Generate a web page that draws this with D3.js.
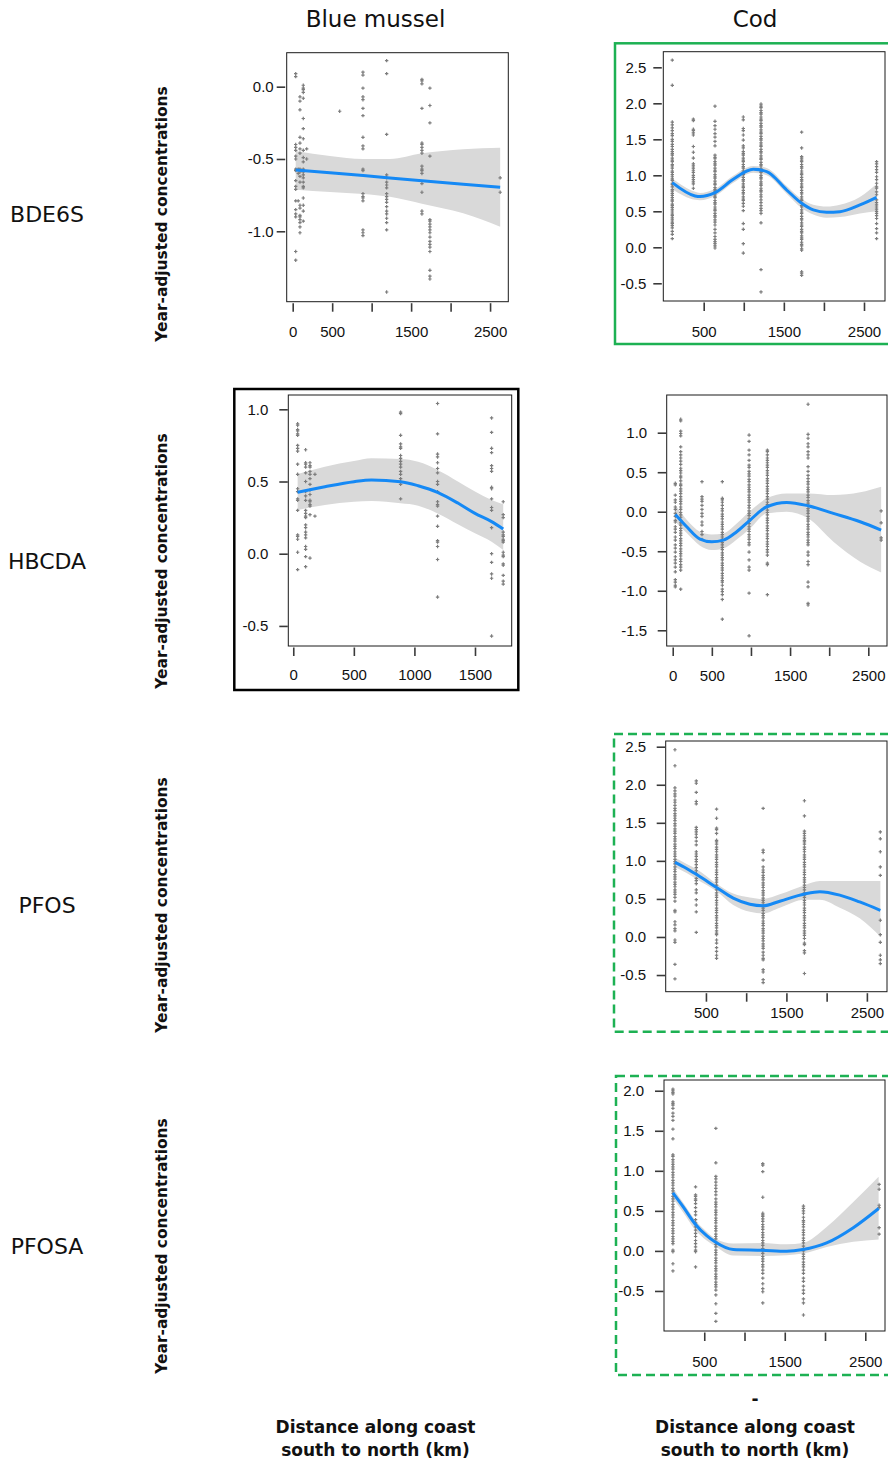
<!DOCTYPE html>
<html>
<head>
<meta charset="utf-8">
<script src="https://cdn.jsdelivr.net/npm/d3@7"></script>
<style>
body { margin: 0; background: #fff; }
svg { display: block; }
</style>
</head>
<body>
<div id="chart"></div>
<script>
// ---- data: each station is [distance km, [year-adjusted values]] ----
var musselBdePts = [
  [38, [0.09, 0.07, -0.40, -0.42, -0.44, -0.48, -0.50, -0.57, -0.58, -0.65, -0.69, -0.71, -0.79, -0.85, -0.88, -0.90, -1.14, -1.20]],
  [70, [-0.57, -0.60, -0.79]],
  [92, [-0.07, -0.10, -0.16, -0.35, -0.39, -0.43, -0.46, -0.57, -0.59, -0.62, -0.66, -0.82, -0.84, -0.89, -0.90, -0.92, -0.94, -0.97, -1.01]],
  [134, [0.01, -0.01, -0.02, -0.04, -0.08, -0.22, -0.29, -0.36, -0.44, -0.49, -0.52, -0.57, -0.59, -0.61, -0.63, -0.66, -0.69, -0.70, -0.77, -0.82, -0.86, -0.93]],
  [177, [-0.43, -0.50]],
  [595, [-0.17]],
  [890, [0.10, 0.08, -0.01, -0.07, -0.09, -0.15, -0.20, -0.35, -0.41, -0.43, -0.57, -0.58, -0.74, -0.76, -0.77, -0.79, -0.99, -1.01, -1.03]],
  [1190, [0.18, 0.09, -0.33, -0.61, -0.63, -0.66, -0.68, -0.70, -0.74, -0.76, -0.78, -0.80, -0.83, -0.86, -0.88, -0.91, -0.94, -0.99, -1.42]],
  [1637, [0.05, 0.04, 0.02, -0.15, -0.39, -0.40, -0.42, -0.44, -0.46, -0.55, -0.57, -0.58, -0.60, -0.67, -0.73, -0.86, -0.88]],
  [1738, [-0.01, -0.13, -0.25, -0.48, -0.92, -0.93, -0.95, -0.97, -0.99, -1.01, -1.04, -1.07, -1.09, -1.11, -1.14, -1.27, -1.31, -1.33]],
  [2628, [-0.63, -0.73]]
];
// fit rows: [distance, fit, lower, upper]
var musselBdeFit = [
  [38, -0.576, -0.712, -0.445], [472, -0.596, -0.728, -0.479], [894, -0.615, -0.742, -0.500],
  [1231, -0.631, -0.762, -0.500], [1637, -0.650, -0.810, -0.461], [2160, -0.674, -0.876, -0.433],
  [2628, -0.695, -0.968, -0.422]
];

var codBdePts = [
  [108, [2.60, 2.25, 1.74, 1.70, 1.66, 1.62, 1.58, 1.55, 1.50, 1.47, 1.43, 1.40, 1.36, 1.33, 1.30, 1.28, 1.24, 1.21, 1.19, 1.15, 1.13, 1.10, 1.06, 1.04, 1.01, 0.98, 0.95, 0.93, 0.89, 0.87, 0.84, 0.80, 0.78, 0.75, 0.72, 0.69, 0.66, 0.64, 0.60, 0.58, 0.55, 0.52, 0.49, 0.46, 0.44, 0.41, 0.38, 0.35, 0.33, 0.30, 0.27, 0.22, 0.18, 0.12]],
  [371, [1.78, 1.76, 1.64, 1.62, 1.59, 1.56, 1.40, 1.32, 1.24, 1.16, 1.13, 1.10, 1.07, 1.04, 1.00, 0.97, 0.94, 0.91, 0.88, 0.82]],
  [641, [1.96, 1.75, 1.69, 1.64, 1.58, 1.53, 1.47, 1.41, 1.28, 1.25, 1.23, 1.19, 1.16, 1.14, 1.10, 1.07, 1.05, 1.01, 0.98, 0.96, 0.92, 0.89, 0.87, 0.83, 0.80, 0.78, 0.74, 0.71, 0.69, 0.65, 0.62, 0.60, 0.56, 0.53, 0.51, 0.47, 0.44, 0.42, 0.38, 0.35, 0.31, 0.25, 0.20, 0.15, 0.11, 0.08, 0.05, 0.02, -0.01]],
  [994, [1.81, 1.77, 1.65, 1.62, 1.56, 1.49, 1.41, 1.38, 1.33, 1.30, 1.28, 1.24, 1.21, 1.19, 1.15, 1.12, 1.10, 1.06, 1.03, 1.01, 0.97, 0.94, 0.92, 0.88, 0.85, 0.83, 0.79, 0.76, 0.74, 0.70, 0.67, 0.65, 0.61, 0.57, 0.51, 0.33, 0.25, 0.05, -0.08]],
  [1215, [1.99, 1.96, 1.94, 1.90, 1.87, 1.85, 1.81, 1.78, 1.76, 1.72, 1.69, 1.67, 1.63, 1.60, 1.58, 1.54, 1.51, 1.49, 1.45, 1.42, 1.40, 1.36, 1.33, 1.31, 1.27, 1.24, 1.22, 1.18, 1.15, 1.13, 1.09, 1.06, 1.04, 1.00, 0.97, 0.95, 0.91, 0.88, 0.86, 0.82, 0.79, 0.77, 0.73, 0.70, 0.66, 0.62, 0.58, 0.54, 0.51, 0.47, 0.34, -0.31, -0.62]],
  [1722, [1.60, 1.38, 1.26, 1.24, 1.21, 1.19, 1.15, 1.12, 1.10, 1.06, 1.03, 1.01, 0.97, 0.94, 0.92, 0.88, 0.85, 0.83, 0.79, 0.76, 0.74, 0.70, 0.67, 0.65, 0.61, 0.58, 0.56, 0.52, 0.49, 0.47, 0.43, 0.40, 0.38, 0.34, 0.31, 0.29, 0.25, 0.22, 0.20, 0.16, 0.13, 0.11, 0.07, 0.04, 0.02, -0.02, -0.04, -0.34, -0.36, -0.39]],
  [2657, [1.19, 1.16, 1.12, 1.08, 1.04, 0.98, 0.94, 0.89, 0.84, 0.82, 0.77, 0.73, 0.66, 0.62, 0.59, 0.56, 0.53, 0.50, 0.47, 0.44, 0.40, 0.33, 0.26, 0.20, 0.12]]
];
var codBdeFit = [
  [108, 0.898, 0.806, 0.958], [392, 0.713, 0.660, 0.770], [454, 0.704, 0.655, 0.755],
  [641, 0.759, 0.710, 0.810], [869, 0.944, 0.895, 0.995], [1119, 1.083, 1.035, 1.130],
  [1286, 1.051, 1.000, 1.100], [1535, 0.796, 0.745, 0.850], [1722, 0.611, 0.545, 0.670],
  [1867, 0.519, 0.455, 0.590], [2034, 0.486, 0.410, 0.565], [2200, 0.495, 0.420, 0.590],
  [2449, 0.588, 0.470, 0.700], [2657, 0.694, 0.500, 0.880]
];

var musselHbcPts = [
  [36, [0.90, 0.89, 0.86, 0.85, 0.83, 0.82, 0.75, 0.73, 0.71, 0.62, 0.55, 0.45, 0.43, 0.38, 0.37, 0.30, 0.13, 0.12, 0.10, 0.01, -0.11]],
  [102, [0.72, 0.63, 0.62, 0.60, 0.56, 0.50, 0.43, 0.40, 0.37, 0.30, 0.28, 0.26, 0.25, 0.20, 0.18, 0.15, 0.13, 0.11, 0.05, 0.03, -0.02, -0.09]],
  [138, [0.63, 0.61, 0.60, 0.57, 0.55, 0.52, 0.48, 0.44, 0.41, 0.37, 0.36, 0.34, 0.33, 0.27, -0.03]],
  [179, [0.55, 0.26]],
  [886, [0.98, 0.97, 0.82, 0.76, 0.74, 0.73, 0.68, 0.66, 0.64, 0.62, 0.60, 0.57, 0.55, 0.52, 0.50, 0.48, 0.38]],
  [1191, [1.04, 0.83, 0.69, 0.67, 0.63, 0.59, 0.56, 0.50, 0.48, 0.43, 0.36, 0.34, 0.33, 0.26, 0.19, 0.09, 0.08, 0.05, -0.04, -0.30]],
  [1637, [0.94, 0.84, 0.73, 0.70, 0.61, 0.59, 0.57, 0.46, 0.45, 0.38, 0.32, 0.30, 0.18, 0.00, -0.06, -0.14, -0.17, -0.57]],
  [1733, [0.36, 0.27, 0.25, 0.15, 0.13, 0.12, 0.10, 0.09, 0.08, 0.01, -0.01, -0.02, -0.07, -0.08, -0.15, -0.19, -0.21]]
];
var musselHbcFit = [
  [36, 0.425, 0.303, 0.552], [261, 0.464, 0.337, 0.603], [501, 0.499, 0.360, 0.642],
  [646, 0.510, 0.365, 0.661], [886, 0.499, 0.349, 0.656], [1031, 0.471, 0.333, 0.637],
  [1191, 0.425, 0.279, 0.580], [1362, 0.349, 0.203, 0.499], [1500, 0.279, 0.141, 0.430],
  [1637, 0.222, 0.083, 0.372], [1733, 0.171, 0.025, 0.342]
];

var codHbcPts = [
  [33, [0.36, 0.34, 0.21, 0.15, 0.12, 0.06, 0.03, -0.02, -0.06, -0.11, -0.13, -0.19, -0.22, -0.26, -0.32, -0.36, -0.42, -0.46, -0.51, -0.57, -0.61, -0.65, -0.70, -0.76, -0.86, -0.89, -0.93, -0.95]],
  [102, [1.17, 1.15, 1.02, 0.99, 0.96, 0.82, 0.76, 0.72, 0.68, 0.64, 0.60, 0.55, 0.52, 0.49, 0.45, 0.43, 0.39, 0.35, 0.33, 0.29, 0.26, 0.23, 0.19, 0.16, 0.13, 0.10, 0.06, 0.03, -0.01, -0.04, -0.07, -0.11, -0.14, -0.17, -0.21, -0.24, -0.27, -0.30, -0.34, -0.37, -0.40, -0.43, -0.47, -0.50, -0.53, -0.56, -0.60, -0.63, -0.67, -0.70, -0.74, -0.98]],
  [374, [0.38, 0.19, 0.16, 0.13, 0.08, 0.03, -0.02, -0.06, -0.13, -0.17, -0.25, -0.29, -0.35]],
  [634, [0.38, 0.17, 0.15, 0.12, 0.08, 0.04, 0.01, -0.03, -0.06, -0.09, -0.13, -0.16, -0.19, -0.22, -0.26, -0.29, -0.32, -0.35, -0.39, -0.42, -0.45, -0.48, -0.52, -0.55, -0.58, -0.61, -0.65, -0.68, -0.71, -0.74, -0.78, -0.81, -0.84, -0.87, -0.89, -0.93, -0.98, -1.01, -1.05, -1.11, -1.36]],
  [976, [0.97, 0.89, 0.78, 0.72, 0.65, 0.59, 0.56, 0.51, 0.48, 0.45, 0.41, 0.38, 0.34, 0.31, 0.28, 0.25, 0.21, 0.18, 0.15, 0.12, 0.08, 0.05, 0.01, -0.02, -0.05, -0.09, -0.12, -0.15, -0.19, -0.22, -0.25, -0.29, -0.32, -0.35, -0.39, -0.42, -0.51, -0.61, -0.70, -0.74, -1.03, -1.57]],
  [1210, [0.78, 0.76, 0.72, 0.68, 0.65, 0.62, 0.59, 0.56, 0.52, 0.49, 0.46, 0.42, 0.39, 0.36, 0.32, 0.29, 0.26, 0.23, 0.19, 0.16, 0.12, 0.09, 0.06, 0.02, -0.01, -0.04, -0.08, -0.11, -0.14, -0.18, -0.21, -0.24, -0.28, -0.31, -0.34, -0.38, -0.41, -0.44, -0.48, -0.51, -0.55, -0.65, -0.67, -1.05]],
  [1730, [1.36, 0.98, 0.93, 0.86, 0.82, 0.76, 0.72, 0.68, 0.57, 0.51, 0.46, 0.42, 0.38, 0.35, 0.31, 0.28, 0.25, 0.21, 0.18, 0.14, 0.11, 0.08, 0.04, 0.01, -0.02, -0.06, -0.09, -0.12, -0.16, -0.19, -0.22, -0.26, -0.29, -0.32, -0.36, -0.39, -0.42, -0.51, -0.55, -0.63, -0.67, -0.89, -0.95, -1.16, -1.18]],
  [2664, [0.01, -0.14, -0.33, -0.36]]
];
var codHbcFit = [
  [33, -0.034, -0.127, 0.084], [179, -0.190, -0.270, -0.100], [349, -0.346, -0.430, -0.253],
  [499, -0.380, -0.485, -0.287], [648, -0.359, -0.464, -0.274], [818, -0.253, -0.350, -0.150],
  [989, -0.105, -0.211, 0.008], [1202, 0.063, -0.021, 0.169], [1458, 0.118, 0.000, 0.232],
  [1731, 0.076, -0.084, 0.232], [2054, -0.021, -0.380, 0.211], [2396, -0.127, -0.633, 0.245],
  [2664, -0.232, -0.768, 0.316]
];

var codPfosPts = [
  [115, [2.46, 2.25, 1.96, 1.92, 1.88, 1.85, 1.80, 1.77, 1.73, 1.69, 1.66, 1.62, 1.59, 1.56, 1.53, 1.49, 1.46, 1.42, 1.39, 1.36, 1.32, 1.29, 1.26, 1.22, 1.19, 1.16, 1.12, 1.09, 1.06, 1.02, 0.99, 0.96, 0.92, 0.89, 0.86, 0.82, 0.79, 0.76, 0.72, 0.69, 0.66, 0.62, 0.59, 0.56, 0.52, 0.47, 0.35, 0.33, 0.20, 0.16, 0.11, 0.08, -0.04, -0.07, -0.36, -0.55]],
  [380, [2.05, 2.02, 1.90, 1.78, 1.75, 1.44, 1.41, 1.38, 1.35, 1.31, 1.26, 1.21, 1.12, 1.09, 1.06, 1.02, 0.99, 0.95, 0.91, 0.87, 0.83, 0.77, 0.74, 0.70, 0.62, 0.58, 0.49, 0.42, 0.33, 0.06]],
  [632, [1.68, 1.56, 1.43, 1.41, 1.36, 1.27, 1.25, 1.22, 1.18, 1.15, 1.12, 1.08, 1.05, 1.02, 0.98, 0.95, 0.92, 0.88, 0.85, 0.82, 0.78, 0.75, 0.72, 0.68, 0.65, 0.62, 0.58, 0.55, 0.52, 0.48, 0.45, 0.42, 0.38, 0.35, 0.32, 0.28, 0.25, 0.22, 0.18, 0.15, 0.12, 0.08, 0.05, 0.03, -0.04, -0.08, -0.14, -0.19, -0.24, -0.28]],
  [1211, [1.69, 1.14, 1.11, 1.01, 0.92, 0.88, 0.85, 0.81, 0.78, 0.75, 0.71, 0.68, 0.65, 0.61, 0.58, 0.55, 0.51, 0.48, 0.45, 0.41, 0.38, 0.35, 0.31, 0.28, 0.25, 0.21, 0.18, 0.15, 0.11, 0.08, 0.05, 0.01, -0.02, -0.05, -0.09, -0.12, -0.15, -0.20, -0.24, -0.28, -0.30, -0.43, -0.46, -0.56, -0.60]],
  [1724, [1.79, 1.59, 1.39, 1.36, 1.33, 1.30, 1.27, 1.25, 1.22, 1.18, 1.15, 1.12, 1.08, 1.05, 1.02, 0.98, 0.95, 0.92, 0.88, 0.85, 0.82, 0.78, 0.75, 0.72, 0.68, 0.65, 0.62, 0.58, 0.55, 0.52, 0.48, 0.45, 0.42, 0.38, 0.35, 0.32, 0.28, 0.25, 0.22, 0.18, 0.15, 0.12, 0.08, 0.05, 0.02, -0.02, -0.08, -0.10, -0.18, -0.21, -0.48]],
  [2667, [1.38, 1.29, 1.12, 0.92, 0.81, 0.22, 0.03, -0.07, -0.24, -0.30, -0.35]]
];
var codPfosFit = [
  [115, 0.98, 0.92, 1.04], [260, 0.90, 0.84, 0.96], [385, 0.82, 0.76, 0.89],
  [632, 0.65, 0.60, 0.70], [839, 0.51, 0.42, 0.57], [1046, 0.43, 0.33, 0.52],
  [1211, 0.41, 0.31, 0.50], [1418, 0.47, 0.385, 0.56], [1725, 0.565, 0.49, 0.68],
  [1915, 0.595, 0.49, 0.735], [2163, 0.55, 0.385, 0.735], [2411, 0.46, 0.245, 0.735],
  [2668, 0.35, 0.004, 0.735]
];

var codPfosaPts = [
  [111, [2.02, 2.00, 1.98, 1.96, 1.86, 1.84, 1.82, 1.78, 1.72, 1.68, 1.63, 1.52, 1.40, 1.20, 1.18, 1.14, 1.11, 1.08, 1.05, 1.02, 0.98, 0.95, 0.92, 0.88, 0.85, 0.82, 0.78, 0.75, 0.72, 0.68, 0.65, 0.62, 0.58, 0.55, 0.52, 0.48, 0.45, 0.42, 0.38, 0.35, 0.32, 0.28, 0.25, 0.22, 0.18, 0.15, 0.12, 0.09, 0.01, -0.01, -0.16, -0.25]],
  [392, [0.80, 0.70, 0.68, 0.65, 0.63, 0.59, 0.54, 0.49, 0.45, 0.39, 0.35, 0.30, 0.26, 0.22, 0.18, 0.13, 0.09, 0.05, 0.01, -0.01, -0.20]],
  [644, [1.53, 1.10, 0.93, 0.90, 0.86, 0.82, 0.78, 0.74, 0.70, 0.65, 0.61, 0.58, 0.55, 0.51, 0.48, 0.45, 0.41, 0.38, 0.35, 0.31, 0.28, 0.25, 0.21, 0.18, 0.15, 0.11, 0.08, 0.05, 0.01, -0.02, -0.05, -0.09, -0.12, -0.15, -0.19, -0.22, -0.25, -0.29, -0.32, -0.35, -0.39, -0.42, -0.45, -0.49, -0.55, -0.66, -0.78, -0.88]],
  [1227, [1.09, 1.07, 0.99, 0.67, 0.47, 0.45, 0.43, 0.40, 0.37, 0.33, 0.30, 0.27, 0.23, 0.20, 0.17, 0.13, 0.10, 0.07, 0.03, 0.00, -0.03, -0.07, -0.10, -0.13, -0.17, -0.20, -0.24, -0.28, -0.34, -0.41, -0.47, -0.51, -0.65]],
  [1732, [0.56, 0.53, 0.50, 0.47, 0.42, 0.38, 0.36, 0.33, 0.30, 0.26, 0.23, 0.20, 0.16, 0.13, 0.10, 0.06, 0.03, 0.00, -0.04, -0.07, -0.10, -0.14, -0.17, -0.20, -0.24, -0.28, -0.34, -0.38, -0.44, -0.49, -0.53, -0.60, -0.65, -0.80]],
  [2672, [0.83, 0.77, 0.57, 0.54, 0.29, 0.21]]
];
var codPfosaFit = [
  [111, 0.725, 0.654, 0.790], [239, 0.550, 0.480, 0.600], [384, 0.340, 0.267, 0.390],
  [530, 0.190, 0.130, 0.240], [637, 0.110, 0.058, 0.154], [860, 0.017, -0.058, 0.092],
  [1220, 0.008, -0.063, 0.100], [1523, -0.004, -0.054, 0.083], [1726, 0.017, -0.033, 0.100],
  [2020, 0.100, 0.050, 0.300], [2351, 0.290, 0.113, 0.610], [2666, 0.530, 0.142, 0.925]
];

var species = ["Blue mussel", "Cod"];
var compounds = ["BDE6S", "HBCDA", "PFOS", "PFOSA"];
var yTitle = "Year-adjusted concentrations";
var xTitle = ["Distance along coast", "south to north (km)"];

// ---- layout ----
var W = 888, H = 1466;
var svg = d3.select('#chart').append('svg')
    .attr('width', W)
    .attr('height', H);
var defs = svg.append('defs');

var panels = [
  {id: 'p1', pts: musselBdePts, fit: musselBdeFit, box: [286.7, 52.7, 508.3, 301.7],
   xDom: [-76, 2731], yDom: [-1.487, 0.235], xTicks: [0, 500, 1000, 1500, 2000, 2500],
   xLab: [0, 500, 1500, 2500], yTicks: [-1.0, -0.5, 0.0], yOff: 1.5, yPad: 3, xBase: 336.7, linear: true},
  {id: 'p2', pts: codBdePts, fit: codBdeFit, box: [663.3, 51.7, 885, 301],
   xDom: [-4, 2762], yDom: [-0.746, 2.717], xTicks: [500, 1000, 1500, 2000, 2500],
   xLab: [500, 1500, 2500], yTicks: [-0.5, 0, 0.5, 1, 1.5, 2, 2.5], yOff: 1.5, yPad: 7, xBase: 336.7},
  {id: 'p3', pts: musselHbcPts, fit: musselHbcFit, box: [288.3, 395, 511.7, 646],
   xDom: [-41, 1803], yDom: [-0.639, 1.099], xTicks: [0, 500, 1000, 1500],
   xLab: [0, 500, 1000, 1500], yTicks: [-0.5, 0, 0.5, 1], yOff: 0.5, yPad: 11, xBase: 680},
  {id: 'p4', pts: codHbcPts, fit: codHbcFit, box: [666.7, 395, 887, 646],
   xDom: [-77, 2739], yDom: [-1.699, 1.477], xTicks: [0, 500, 1000, 1500, 2000, 2500],
   xLab: [0, 500, 1500, 2500], yTicks: [-1.5, -1, -0.5, 0, 0.5, 1], yOff: 0.5, yPad: 10.5, xBase: 681},
  {id: 'p5', pts: codPfosPts, fit: codPfosFit, box: [665.7, 741, 887, 991.7],
   xDom: [0, 2750], yDom: [-0.719, 2.575], xTicks: [500, 1000, 1500, 2000, 2500],
   xLab: [500, 1500, 2500], yTicks: [-0.5, 0, 0.5, 1, 1.5, 2, 2.5], yOff: 0.5, yPad: 10.5, xBase: 1018.5},
  {id: 'p6', pts: codPfosaPts, fit: codPfosaFit, box: [664, 1080, 885, 1331],
   xDom: [0, 2745], yDom: [-1.0, 2.134], xTicks: [500, 1000, 1500, 2000, 2500],
   xLab: [500, 1500, 2500], yTicks: [-0.5, 0, 0.5, 1, 1.5, 2], yOff: 0.5, yPad: 11, xBase: 1366.7}
];

var tickFont = '"Liberation Sans", Arial, sans-serif';
var bandColor = '#d9d9d9';
var lineColor = '#1589f5';
var ptColor = '#7d7d7d';
var green = '#1db153';

function drawPanel(p) {
  var l = p.box[0], t = p.box[1], r = p.box[2], b = p.box[3];
  var x = d3.scaleLinear().domain(p.xDom).range([l, r]);
  var y = d3.scaleLinear().domain(p.yDom).range([b, t]);

  defs.append('clipPath').attr('id', 'clip-' + p.id)
    .append('rect').attr('x', l).attr('y', t).attr('width', r - l).attr('height', b - t);

  var g = svg.append('g').attr('clip-path', 'url(#clip-' + p.id + ')');
  var curve = p.linear ? d3.curveLinear : d3.curveMonotoneX;

  // confidence band
  g.append('path')
    .datum(p.fit)
    .attr('d', d3.area()
      .x(function(d) { return x(d[0]); })
      .y0(function(d) { return y(d[2]); })
      .y1(function(d) { return y(d[3]); })
      .curve(d3.curveMonotoneX))
    .attr('fill', bandColor);

  // points (pch 3 style crosses)
  var flat = [];
  p.pts.forEach(function(s) {
    s[1].forEach(function(v) { flat.push([s[0], v]); });
  });
  g.selectAll('path.pt')
    .data(flat)
    .enter()
    .append('path')
    .attr('class', 'pt')
    .attr('d', function(d) {
      var cx = x(d[0]), cy = y(d[1]);
      return 'M' + (cx - 1.7) + ',' + cy + 'H' + (cx + 1.7) + 'M' + cx + ',' + (cy - 1.7) + 'V' + (cy + 1.7);
    })
    .attr('stroke', ptColor)
    .attr('stroke-width', 1.2);

  // smooth
  g.append('path')
    .datum(p.fit)
    .attr('d', d3.line()
      .x(function(d) { return x(d[0]); })
      .y(function(d) { return y(d[1]); })
      .curve(curve))
    .attr('fill', 'none')
    .attr('stroke', lineColor)
    .attr('stroke-width', 3);

  svg.append('rect')
    .attr('x', l).attr('y', t).attr('width', r - l).attr('height', b - t)
    .attr('fill', 'none').attr('stroke', '#1a1a1a').attr('stroke-width', 1);

  var yAxis = d3.axisLeft(y)
    .tickValues(p.yTicks)
    .tickSize(8.5)
    .tickPadding(p.yPad)
    .tickFormat(function(d) { return d.toFixed(1); });
  var ya = svg.append('g')
    .attr('transform', 'translate(' + (l - p.yOff) + ',0)')
    .call(yAxis);

  var xAxis = d3.axisBottom(x)
    .tickValues(p.xTicks)
    .tickSize(8.5)
    .tickPadding(p.xBase - (b + 1.5) - 8.5 - 0.71 * 15)
    .tickFormat(function(d) { return p.xLab.indexOf(d) >= 0 ? String(d) : ''; });
  var xa = svg.append('g')
    .attr('transform', 'translate(0,' + (b + 1.5) + ')')
    .call(xAxis);

  [ya, xa].forEach(function(a) {
    a.select('.domain').remove();
    a.selectAll('.tick line').attr('stroke', '#3a3a3a').attr('stroke-width', 1.6);
    a.selectAll('.tick text')
      .style('font-family', tickFont)
      .style('font-size', '15px')
      .attr('fill', '#111');
  });
}

panels.forEach(drawPanel);

// highlight frames
svg.append('rect').attr('x', 615).attr('y', 43.3).attr('width', 290).attr('height', 300.7)
  .attr('fill', 'none').attr('stroke', green).attr('stroke-width', 2.5);
svg.append('rect').attr('x', 234.3).attr('y', 389).attr('width', 284).attr('height', 301)
  .attr('fill', 'none').attr('stroke', '#000').attr('stroke-width', 2.5);
svg.append('rect').attr('x', 614).attr('y', 734).attr('width', 290).attr('height', 297.7)
  .attr('fill', 'none').attr('stroke', green).attr('stroke-width', 2.5)
  .attr('stroke-dasharray', '9,5');
svg.append('rect').attr('x', 616).attr('y', 1076).attr('width', 290).attr('height', 299)
  .attr('fill', 'none').attr('stroke', green).attr('stroke-width', 2.5)
  .attr('stroke-dasharray', '9,5');

// headers
var headX = [375.5, 755];
svg.selectAll('text.head')
  .data(species)
  .enter()
  .append('text')
  .attr('class', 'head')
  .attr('x', function(d, i) { return headX[i]; })
  .attr('y', 27)
  .attr('text-anchor', 'middle')
  .style('font-family', '"DejaVu Sans", sans-serif')
  .style('font-size', '23px')
  .attr('fill', '#111')
  .text(function(d) { return d; });

var rowY = [214, 561, 905, 1246];
svg.selectAll('text.row')
  .data(compounds)
  .enter()
  .append('text')
  .attr('class', 'row')
  .attr('x', 47)
  .attr('y', function(d, i) { return rowY[i] + 8; })
  .attr('text-anchor', 'middle')
  .style('font-family', '"DejaVu Sans", sans-serif')
  .style('font-size', '22px')
  .attr('fill', '#111')
  .text(function(d) { return d; });

svg.selectAll('text.ylab')
  .data(rowY)
  .enter()
  .append('text')
  .attr('class', 'ylab')
  .attr('transform', function(d) { return 'translate(167,' + d + ') rotate(-90)'; })
  .attr('text-anchor', 'middle')
  .style('font-family', '"DejaVu Sans", sans-serif')
  .style('font-weight', 'bold')
  .style('font-size', '15.4px')
  .attr('fill', '#111')
  .text(yTitle);

// bottom titles
headX.forEach(function(cx) {
  xTitle.forEach(function(line, j) {
    svg.append('text')
      .attr('x', cx)
      .attr('y', 1433 + j * 23)
      .attr('text-anchor', 'middle')
      .style('font-family', '"DejaVu Sans", sans-serif')
      .style('font-weight', 'bold')
      .style('font-size', '17px')
      .attr('fill', '#111')
      .text(line);
  });
});
svg.append('text')
  .attr('x', 755).attr('y', 1405)
  .attr('text-anchor', 'middle')
  .style('font-family', '"DejaVu Sans", sans-serif')
  .style('font-weight', 'bold')
  .style('font-size', '17px')
  .attr('fill', '#111')
  .text('-');
</script>
</body>
</html>
